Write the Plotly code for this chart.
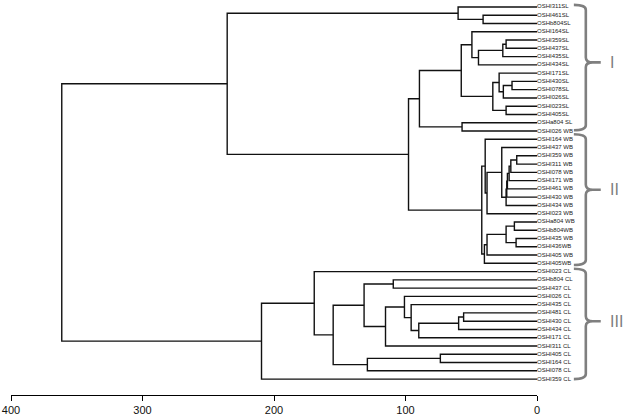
import plotly.graph_objects as go

# ---------------- data ----------------
leaf_labels = [
    "OSHI311SL", "OSHI461SL", "OSHb804SL", "OSHI164SL", "OSHI359SL", "OSHI437SL",
    "OSHI435SL", "OSHI434SL", "OSHI171SL", "OSHI430SL", "OSHI078SL", "OSHI026SL",
    "OSHI023SL", "OSHI405SL", "OSHa804 SL", "OSHI026 WB", "OSHI164 WB", "OSHI437 WB",
    "OSHI359 WB", "OSHI311 WB", "OSHI078 WB", "OSHI171 WB", "OSHI461 WB", "OSHI430 WB",
    "OSHI434 WB", "OSHI023 WB", "OSHa804 WB", "OSHb804WB", "OSHI435 WB", "OSHI436WB",
    "OSHI405 WB", "OSHI405WB", "OSHI023 CL", "OSHb804 CL", "OSHI437 CL", "OSHI026 CL",
    "OSHI435 CL", "OSHI481 CL", "OSHI430 CL", "OSHI434 CL", "OSHI171 CL", "OSHI311 CL",
    "OSHI405 CL", "OSHI164 CL", "OSHI078 CL", "OSHI359 CL",
]

node_ids = ["a", "b", "c", "d", "e", "f", "g", "h", "i", "j", "k", "l", "m", "n",
            "o", "p", "q", "r", "s", "t", "u", "v", "w", "x", "y", "z", "aa", "bb", "cc",
            "dd", "ee",
            "ff", "gg", "hh", "ii", "jj", "kk", "ll", "mm", "nn", "oo", "pp", "qq", "rr",
            "root"]
node_left = [1, 0, 4, "c", "d", 3, 9, "g", 8, 12, "i", "f", 14, "l",
             18, "o", "p", "q", "r", "s", 17, "u", 16, 26, 28, "x", "z", "aa", "w",
             "n", "b",
             37, "ff", "gg", 36, 35, "jj", 33, "ll", 42, "nn", "mm", 32, "qq",
             "ee"]
node_right = [2, "a", 5, 6, 7, "e", 10, 11, "h", 13, "j", "k", 15, "m",
              19, 20, 21, 22, 23, 24, "t", 25, "v", 27, 29, "y", 30, 31, "bb",
              "cc", "dd",
              38, 39, 40, "hh", "ii", 41, 34, "kk", 43, 44, "oo", "pp", 45,
              "rr"]
node_height = [41.0, 60.0, 23.5, 26.0, 44.5, 49.5, 19.0, 25.6, 28.8, 23.5, 33.6, 57.6, 57.0, 89.4,
               15.4, 19.9, 21.2, 22.5, 23.0, 23.5, 26.8, 38.0, 39.4, 17.2, 15.9, 23.5, 38.0, 40.0, 42.0,
               97.7, 235.6,
               55.8, 59.6, 89.9, 95.7, 100.8, 115.2, 109.3, 131.5, 73.5, 129.0, 155.0, 169.4, 209.5,
               361.4]

x_ticks = [400, 300, 200, 100, 0]

group_names = ["I", "II", "III"]
group_start = [-0.25, 15.4, 31.65]   # leaf positions spanned by each brace
group_end = [14.9, 31.2, 45.0]
group_mid = [6.7, 22.1, 38.0]

# ---------------- dendrogram geometry ----------------
pos = {i: (float(i), 0.0) for i in range(len(leaf_labels))}
lx, ly = [], []
for nid, lc, rc, h in zip(node_ids, node_left, node_right, node_height):
    y1, h1 = pos[lc]
    y2, h2 = pos[rc]
    lx += [h1, h, h, h2, None]
    ly += [y1, y1, y2, y2, None]
    pos[nid] = ((y1 + y2) / 2.0, h)

# ---------------- layout ----------------
FW, FH = 629, 418
L, R, T, B = 9, 92, 2, 21
W, H = FW - L - R, FH - T - B
LEAF0_PX, LEAF_STEP = 7.0, 8.311
y_top = -(LEAF0_PX - T) / LEAF_STEP
y_bot = y_top + H / LEAF_STEP


def px_x(px):
    return (px - L) / W


def px_y(py):
    return 1 - (py - T) / H


def leaf_px(v):
    return LEAF0_PX + LEAF_STEP * v


fig = go.Figure()
fig.add_trace(go.Scatter(x=lx, y=ly, mode="lines",
                         line=dict(color="#111111", width=1.4),
                         hoverinfo="skip", cliponaxis=False, showlegend=False))
fig.add_trace(go.Scatter(x=[0.0] * len(leaf_labels), y=list(range(len(leaf_labels))),
                         mode="text", text=leaf_labels, textposition="middle right",
                         textfont=dict(size=6, color="#222222",
                                       family="Liberation Sans Narrow, Liberation Sans, Arial"),
                         hoverinfo="skip", cliponaxis=False, showlegend=False))

shapes = []
annotations = []
XH, XS, XT, XD = 574, 586, 593, 601
RAD = 5
for name, s, e, m in zip(group_names, group_start, group_end, group_mid):
    yt, yb, ym = leaf_px(s), leaf_px(e), leaf_px(m)
    pts = (
        f"M {px_x(XH)},{px_y(yt)} "
        f"Q {px_x(XS)},{px_y(yt)} {px_x(XS)},{px_y(yt + RAD)} "
        f"L {px_x(XS)},{px_y(ym - RAD)} "
        f"Q {px_x(XS)},{px_y(ym)} {px_x(XT)},{px_y(ym)} "
        f"Q {px_x(XS)},{px_y(ym)} {px_x(XS)},{px_y(ym + RAD)} "
        f"L {px_x(XS)},{px_y(yb - RAD)} "
        f"Q {px_x(XS)},{px_y(yb)} {px_x(XH)},{px_y(yb)} "
        f"M {px_x(XT)},{px_y(ym)} L {px_x(XD)},{px_y(ym)}"
    )
    shapes.append(dict(type="path", path=pts, xref="paper", yref="paper",
                       line=dict(color="#7f7f7f", width=2.6)))
    annotations.append(dict(x=px_x(608), y=px_y(ym), xref="paper", yref="paper",
                            text=name, showarrow=False, xanchor="left", yanchor="middle",
                            font=dict(size=16, color="#7f7f7f",
                                      family="Liberation Sans, Arial, sans-serif")))

fig.update_layout(
    width=FW, height=FH,
    margin=dict(l=L, r=R, t=T, b=B, pad=0),
    paper_bgcolor="white", plot_bgcolor="white",
    shapes=shapes, annotations=annotations,
    showlegend=False,
)
fig.update_xaxes(range=[400, 0], tickvals=x_ticks, ticktext=[str(v) for v in x_ticks],
                 showline=True, linecolor="black", linewidth=1,
                 ticks="outside", ticklen=5, tickwidth=1, tickcolor="black",
                 showgrid=False, zeroline=False, ticklabeloverflow="allow",
                 tickfont=dict(size=11, color="#111111",
                               family="Liberation Sans Narrow, Liberation Sans, Arial"))
fig.update_yaxes(range=[y_bot, y_top], visible=False, showgrid=False, zeroline=False)

fig.write_html("out.html", config={"displayModeBar": False},
               post_script="document.body.style.margin='0';document.body.style.overflow='hidden';")
